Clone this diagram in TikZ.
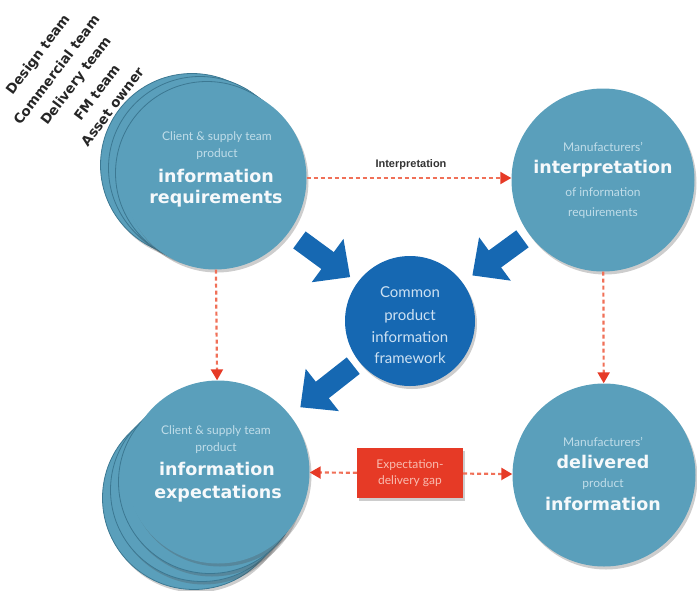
\documentclass[tikz,border=0pt]{standalone}
\usepackage{fontspec}
\setmainfont{Lato}
\newfontfamily\dvfont{DejaVu Sans}
\newfontfamily\libfont{Liberation Sans}
\usetikzlibrary{arrows.meta,shadows}
\definecolor{tealc}{RGB}{90,159,187}
\definecolor{tealedge}{RGB}{60,120,146}
\definecolor{bluec}{RGB}{22,104,178}
\definecolor{redc}{RGB}{230,58,38}
\definecolor{dashc}{RGB}{240,112,88}
\definecolor{paletext}{RGB}{192,221,233}
\definecolor{boldtext}{RGB}{246,249,251}
\definecolor{centertext}{RGB}{205,225,242}
\definecolor{boxtext}{RGB}{248,188,176}
\begin{document}
\begin{tikzpicture}[x=1pt,y=-1pt,
  shadowed/.style={drop shadow={shadow xshift=2pt,shadow yshift=-3pt,opacity=0.28,fill=black!70}},
  bigcircle/.style={circle,fill=tealc,minimum size=183pt,inner sep=0pt,shadowed},
  backcircle/.style={circle,fill=tealc,draw=tealedge,line width=0.8pt,minimum size=183pt,inner sep=0pt,shadowed},
  hubcircle/.style={circle,fill=bluec,minimum size=130pt,inner sep=0pt,shadowed},
  smalltxt/.style={font=\fontsize{12}{14}\selectfont,text=paletext,inner sep=0pt,anchor=base},
  boldtxt/.style={font=\dvfont\bfseries\fontsize{17.5}{20}\selectfont,text=boldtext,inner sep=0pt,anchor=base},
  hubtxt/.style={font=\fontsize{15}{17}\selectfont,text=centertext,inner sep=0pt,anchor=base},
  teamtxt/.style={font=\dvfont\bfseries\fontsize{13.5}{16}\selectfont,text=black!85,inner sep=0pt,rotate=53},
  interptxt/.style={font=\libfont\bfseries\fontsize{11}{13}\selectfont,text=black!80,inner sep=0pt,anchor=base},
  reddash/.style={draw=dashc,line width=2.2pt,dash pattern=on 4pt off 3pt,-{Triangle[length=11pt,width=12pt,color=redc]}},
  bigarrow/.style={draw=bluec,line width=21pt,-{Triangle[length=28pt,width=52pt]}},
  gapbox/.style={fill=redc,minimum width=106pt,minimum height=50pt,inner sep=2pt,align=center,text=boxtext,font=\fontsize{12}{16}\selectfont,shadowed}
]
\useasboundingbox (0,0) rectangle (697,590);

% top-left stack
\node[backcircle] (TLb3) at (192,165) {};
\node[backcircle] (TLb2) at (200,168) {};
\node[backcircle] (TLb1) at (207,173) {};
\node[bigcircle]  (TL)   at (215,178) {};

% bottom-left stack
\node[backcircle] (BLb3) at (194,498) {};
\node[backcircle] (BLb2) at (202,490) {};
\node[backcircle] (BLb1) at (210,482) {};
\node[bigcircle]  (BL)   at (218,472) {};

% right circles
\node[bigcircle] (TR) at (603,180) {};
\node[bigcircle] (BR) at (604,475) {};

% hub
\node[hubcircle] (C) at (410,321) {};

% gap box
\node[gapbox] (gap) at (410,473) {Expectation-\\delivery gap};

% dashed connectors
\draw[reddash] (TL.east) -- (TL.east -| TR.west);
\draw[reddash] (TL) -- (BL);
\draw[reddash] (TR) -- (BR);
\draw[reddash] (gap) -- (BL);
\draw[reddash] (gap) -- (BR);

% block arrows
\draw[bigarrow,shorten <=13pt,shorten >=9pt] (TL) -- (C);
\draw[bigarrow,shorten <=8pt,shorten >=12pt] (TR) -- (C);
\draw[bigarrow,shorten <=7pt,shorten >=13pt] (C) -- (BL);

% label on top connector
\node[interptxt] (interp) at (411,167) {Interpretation};

% texts top-left
\node[smalltxt] (tla) at (217,140) {Client \& supply team};
\node[smalltxt] (tlb) at (217,157) {product};
\node[boldtxt]  (tlc) at (216,182) {information};
\node[boldtxt]  (tld) at (216,203) {requirements};

% texts top-right
\node[smalltxt] (tra) at (603,151) {Manufacturers'};
\node[boldtxt]  (trb) at (603,173) {interpretation};
\node[smalltxt] (trc) at (603,196) {of information};
\node[smalltxt] (trd) at (603,216) {requirements};

% texts bottom-left
\node[smalltxt] (bla) at (216,434) {Client \& supply team};
\node[smalltxt] (blb) at (216,451) {product};
\node[boldtxt]  (blc) at (217,475) {information};
\node[boldtxt]  (bld) at (218,498) {expectations};

% texts bottom-right
\node[smalltxt] (bra) at (603,446) {Manufacturers'};
\node[boldtxt]  (brb) at (603,468) {delivered};
\node[smalltxt] (brc) at (603,487) {product};
\node[boldtxt]  (brd) at (603,510) {information};

% hub text
\node[hubtxt] (ca) at (410,297) {Common};
\node[hubtxt] (cb) at (410,320) {product};
\node[hubtxt] (cc) at (410,342) {information};
\node[hubtxt] (cd) at (410,363) {framework};

% team labels
\node[teamtxt] (team1) at (38.6,55.2)  {Design team};
\node[teamtxt] (team2) at (56.4,69.8)  {Commercial team};
\node[teamtxt] (team3) at (76.6,81.2)  {Delivery team};
\node[teamtxt] (team4) at (96.8,92.6)  {FM team};
\node[teamtxt] (team5) at (112.4,106.8) {Asset owner};
\end{tikzpicture}
\end{document}
